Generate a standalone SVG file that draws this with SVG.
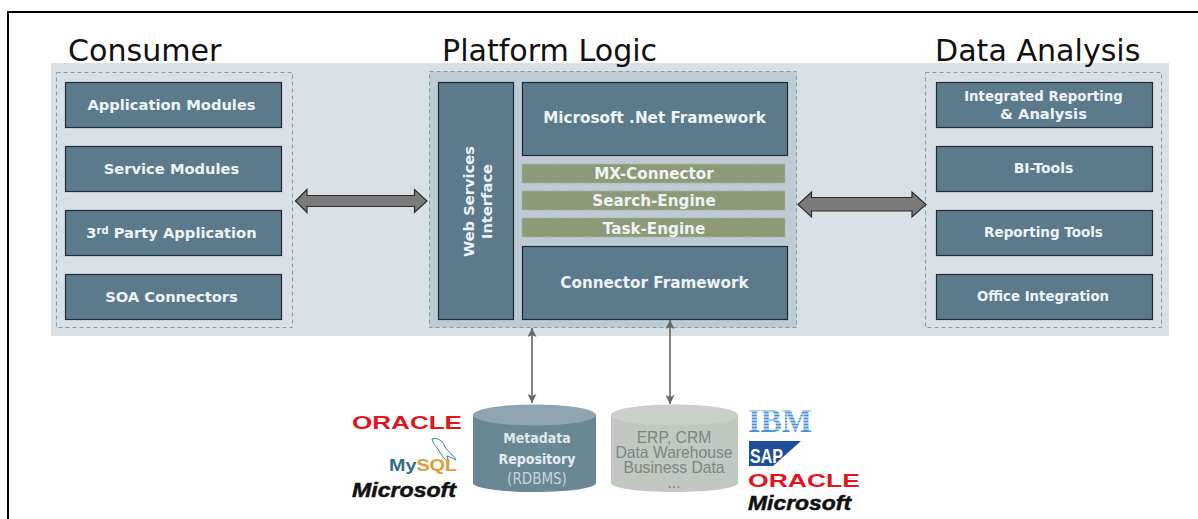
<svg xmlns="http://www.w3.org/2000/svg" width="1198" height="519" viewBox="0 0 1198 519">
<style>
text{font-family:"DejaVu Sans",Verdana,sans-serif}
.title{font-size:30.100px;fill:#111}
.box{fill:#5b7a8c;stroke:#1f2a33;stroke-width:1.2}
.lbl{font-size:14.7px;font-weight:700;fill:#eef3f5;text-anchor:middle}
.l15{font-size:15.2px}
.l13{font-size:13.3px}
.olive{fill:#8d9a78;stroke:#a7b09a;stroke-width:1;stroke-dasharray:3 2}
.dash{fill:none;stroke:#8a9aa5;stroke-width:1;stroke-dasharray:4 3}
.big{fill:#7b7b7b;stroke:#2c2c2c;stroke-width:1.2;stroke-linejoin:miter}
.thin{stroke:#666;stroke-width:1.6;fill:none;marker-start:url(#ah);marker-end:url(#ah)}
.sans{font-family:"Liberation Sans",Arial,sans-serif}
.ora{font-family:"Liberation Sans",Arial,sans-serif;font-size:18px;font-weight:700;fill:#e3141c}
.ms{font-family:"Liberation Sans",Arial,sans-serif;font-size:21px;font-weight:700;font-style:italic;fill:#111;stroke:#111;stroke-width:.5}
.db{font-family:"DejaVu Sans Condensed","DejaVu Sans",sans-serif;text-anchor:middle}
.erp{font-family:"Liberation Sans",Arial,sans-serif;font-size:15.7px;fill:#7e8680;text-anchor:middle}
</style>
<defs>
<marker id="ah" markerUnits="userSpaceOnUse" markerWidth="10" markerHeight="9" refX="9" refY="4.5" orient="auto-start-reverse"><path d="M0 0L9 4.5L0 9L2 4.5Z" fill="#666"/></marker>
</defs>
<rect width="1198" height="519" fill="#fff"/>
<path d="M8 519V12H1198" fill="none" stroke="#000" stroke-width="2"/>
<rect id="band" x="51" y="63" width="1118" height="273" fill="#d9e1e6"/>
<text class="title" x="68" y="61">Consumer</text>
<text class="title" x="442" y="61">Platform Logic</text>
<text class="title" x="935" y="61">Data Analysis</text>

<rect x="56.500" y="72.500" width="236" height="255" class="dash"/>
<rect x="429.500" y="71.500" width="367" height="256" fill="#bccbd4" stroke="#8a9aa5" stroke-dasharray="4 3"/>
<rect x="925.500" y="72.500" width="236" height="255" class="dash"/>

<g id="consumer-app"><rect class="box" x="65.500" y="82.500" width="216" height="45"/><text class="lbl" x="171.500" y="110">Application Modules</text></g>
<g id="consumer-service"><rect class="box" x="65.500" y="146.500" width="216" height="45"/><text class="lbl" x="171.500" y="174">Service Modules</text></g>
<g id="consumer-3rd"><rect class="box" x="65.500" y="210.500" width="216" height="45"/><text class="lbl" x="171.500" y="238">3<tspan font-size="10" dy="-4">rd</tspan><tspan dy="4"> Party Application</tspan></text></g>
<g id="consumer-soa"><rect class="box" x="65.500" y="274.500" width="216" height="45"/><text class="lbl" x="171.500" y="302">SOA Connectors</text></g>

<g id="web-services"><rect class="box" x="438.500" y="82.500" width="75" height="237"/><text class="lbl" transform="translate(473.500 201.500) rotate(-90)"><tspan x="0" y="0">Web Services</tspan><tspan x="0" y="18">Interface</tspan></text></g>
<g id="net"><rect class="box" x="522.500" y="82.500" width="265" height="73"/><text class="lbl l15" x="654.500" y="123">Microsoft .Net Framework</text></g>
<g id="mx"><rect class="olive" x="522" y="164" width="263" height="19"/><text class="lbl l15" x="654" y="178.500">MX-Connector</text></g>
<g id="search"><rect class="olive" x="522" y="191" width="263" height="19"/><text class="lbl l15" x="654" y="206">Search-Engine</text></g>
<g id="task"><rect class="olive" x="522" y="218" width="263" height="19"/><text class="lbl l15" x="654" y="233.500">Task-Engine</text></g>
<g id="connector-fw"><rect class="box" x="522.500" y="246.500" width="265" height="73"/><text class="lbl l15" x="654.500" y="288">Connector Framework</text></g>

<g id="da-integrated"><rect class="box" x="936.500" y="82.500" width="216" height="45"/><text class="lbl l13" x="1043.500" y="101">Integrated Reporting</text><text class="lbl" x="1043.500" y="118.500">&amp; Analysis</text></g>
<g id="da-bi"><rect class="box" x="936.500" y="146.500" width="216" height="45"/><text class="lbl" x="1043.500" y="173" style="font-size:14px">BI-Tools</text></g>
<g id="da-reporting"><rect class="box" x="936.500" y="210.500" width="216" height="45"/><text class="lbl" x="1043.500" y="237" style="font-size:13.500px">Reporting Tools</text></g>
<g id="da-office"><rect class="box" x="936.500" y="274.500" width="216" height="45"/><text class="lbl l13" x="1043" y="301">Office Integration</text></g>

<g id="connectors">
<path class="big" d="M295.500 201L307 189.500V195.500H414.500V189.500L427 201L414.500 212.500V206.500H307V212.500Z"/>
<path class="big" d="M798 204.500L811.500 192V197.500H912V192L926 204.500L912 217V211H811.500V217Z"/>
<path class="thin" d="M532 328V403"/>
<path class="thin" d="M670 320V404"/>
</g>

<g id="metadata-repo">
<path d="M473 415V483C473 488 500 492 534.500 492S596 488 596 483V415Z" fill="#6a8796"/>
<ellipse cx="534.500" cy="415" rx="61.500" ry="10.500" fill="#8ea5b1"/>
<text class="db" x="537" y="443" fill="#dfe6ea" font-weight="700" font-size="14">Metadata</text>
<text class="db" x="537" y="464" fill="#e6ecef" font-weight="700" font-size="14">Repository</text>
<text class="db" x="537" y="484" fill="#c9d4da" font-size="15">(RDBMS)</text>
</g>
<g id="business-data">
<path d="M611 415V483C611 488 639 492 674.500 492S738 488 738 483V415Z" fill="#c0c8bf"/>
<ellipse cx="674.500" cy="415" rx="63.500" ry="10.500" fill="#c9d0c8"/>
<text class="erp" x="674" y="443">ERP, CRM</text>
<text class="erp" x="674" y="458">Data Warehouse</text>
<text class="erp" x="674" y="473">Business Data</text>
<text class="erp" x="674" y="488">...</text>
</g>

<g id="logos-left">
<text class="ora" x="352" y="429" textLength="110" lengthAdjust="spacingAndGlyphs">ORACLE</text>
<path d="M432 439C438 437 443 441 445 447C448 452 453 454 456 460C452 458 450 457 447 456L449 463C444 459 441 454 438 449C435 446 433 443 432 439Z" fill="#fff" stroke="#3b7c90" stroke-width="1"/>
<text class="sans" x="389" y="471" font-size="17" font-weight="700" textLength="68" lengthAdjust="spacingAndGlyphs"><tspan fill="#2c6f86">My</tspan><tspan fill="#e39a35">SQL</tspan></text>
<text class="ms" x="352" y="497" textLength="104" lengthAdjust="spacingAndGlyphs">Microsoft</text>
</g>
<g id="logos-right">
<text x="748" y="432" font-size="34" font-weight="700" fill="#4a8fdc" textLength="64" lengthAdjust="spacingAndGlyphs" style="font-family:'Liberation Serif',serif">IBM</text>
<path d="M748 411H813M748 414H813M748 417H813M748 420H813M748 423H813M748 426H813M748 429H813" stroke="#fff" stroke-width="1"/>
<path d="M749 441H801L773 466H749Z" fill="#1c4e9c"/>
<text class="sans" x="750" y="463" font-size="20" font-weight="700" fill="#fff" textLength="33" lengthAdjust="spacingAndGlyphs">SAP</text>
<text class="ora" x="748" y="487" textLength="112" lengthAdjust="spacingAndGlyphs">ORACLE</text>
<text class="ms" x="748" y="510" textLength="103" lengthAdjust="spacingAndGlyphs">Microsoft</text>
</g>
</svg>
